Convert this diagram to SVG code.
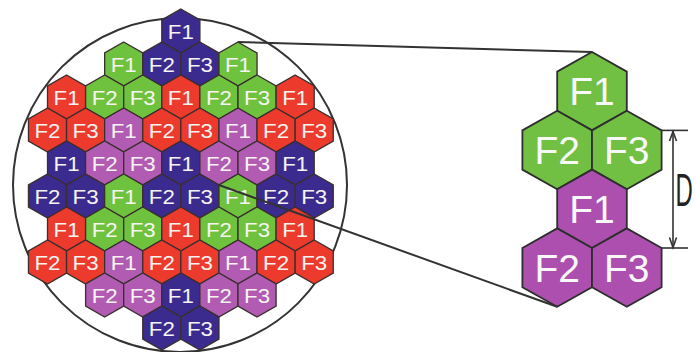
<svg xmlns="http://www.w3.org/2000/svg" xmlns:xlink="http://www.w3.org/1999/xlink" width="695" height="352" viewBox="0 0 695 352">
<style>
.B{fill:#3b2b8e}.G{fill:#6fc23e}.R{fill:#ec3a2c}.P{fill:#b15bb3}
.GR{fill:#72c043}.PR{fill:#ad4fae}
.t{font-family:"Liberation Sans",Arial,sans-serif;font-size:21px;fill:#f6f4f0;text-anchor:middle}
.tb{font-family:"Liberation Sans",Arial,sans-serif;font-size:39px;fill:#f8f8f8;text-anchor:middle}
.ln{stroke:#333;stroke-width:2;fill:none}
.dim{stroke:#333;stroke-width:1.6;fill:none}
</style>
<defs>
<polygon id="hs" points="0,-22 19.05,-11 19.05,11 0,22 -19.05,11 -19.05,-11" stroke="#3a2e2e" stroke-width="1.3"/>
<polygon id="hl" points="0,-39.2 34.8,-19.6 34.8,19.6 0,39.2 -34.8,19.6 -34.8,-19.6" stroke="#2e2e2e" stroke-width="1.8"/>
</defs>
<rect width="695" height="352" fill="#fff"/>
<circle cx="180" cy="185" r="167" class="ln"/>
<g id="grid">
<g id="r0c7"><use xlink:href="#hs" x="180.85" y="31" class="B"/><text class="t" x="180.85" y="38.5" textLength="26" lengthAdjust="spacingAndGlyphs">F1</text></g>
<g id="r1c4"><use xlink:href="#hs" x="123.7" y="64" class="G"/><text class="t" x="123.7" y="71.5" textLength="26" lengthAdjust="spacingAndGlyphs">F1</text></g>
<g id="r1c6"><use xlink:href="#hs" x="161.8" y="64" class="B"/><text class="t" x="161.8" y="71.5" textLength="26" lengthAdjust="spacingAndGlyphs">F2</text></g>
<g id="r1c8"><use xlink:href="#hs" x="199.9" y="64" class="B"/><text class="t" x="199.9" y="71.5" textLength="26" lengthAdjust="spacingAndGlyphs">F3</text></g>
<g id="r1c10"><use xlink:href="#hs" x="238" y="64" class="G"/><text class="t" x="238" y="71.5" textLength="26" lengthAdjust="spacingAndGlyphs">F1</text></g>
<g id="r2c1"><use xlink:href="#hs" x="66.55" y="97" class="R"/><text class="t" x="66.55" y="104.5" textLength="26" lengthAdjust="spacingAndGlyphs">F1</text></g>
<g id="r2c3"><use xlink:href="#hs" x="104.65" y="97" class="G"/><text class="t" x="104.65" y="104.5" textLength="26" lengthAdjust="spacingAndGlyphs">F2</text></g>
<g id="r2c5"><use xlink:href="#hs" x="142.75" y="97" class="G"/><text class="t" x="142.75" y="104.5" textLength="26" lengthAdjust="spacingAndGlyphs">F3</text></g>
<g id="r2c7"><use xlink:href="#hs" x="180.85" y="97" class="R"/><text class="t" x="180.85" y="104.5" textLength="26" lengthAdjust="spacingAndGlyphs">F1</text></g>
<g id="r2c9"><use xlink:href="#hs" x="218.95" y="97" class="G"/><text class="t" x="218.95" y="104.5" textLength="26" lengthAdjust="spacingAndGlyphs">F2</text></g>
<g id="r2c11"><use xlink:href="#hs" x="257.05" y="97" class="G"/><text class="t" x="257.05" y="104.5" textLength="26" lengthAdjust="spacingAndGlyphs">F3</text></g>
<g id="r2c13"><use xlink:href="#hs" x="295.15" y="97" class="R"/><text class="t" x="295.15" y="104.5" textLength="26" lengthAdjust="spacingAndGlyphs">F1</text></g>
<g id="r3c0"><use xlink:href="#hs" x="47.5" y="130" class="R"/><text class="t" x="47.5" y="137.5" textLength="26" lengthAdjust="spacingAndGlyphs">F2</text></g>
<g id="r3c2"><use xlink:href="#hs" x="85.6" y="130" class="R"/><text class="t" x="85.6" y="137.5" textLength="26" lengthAdjust="spacingAndGlyphs">F3</text></g>
<g id="r3c4"><use xlink:href="#hs" x="123.7" y="130" class="P"/><text class="t" x="123.7" y="137.5" textLength="26" lengthAdjust="spacingAndGlyphs">F1</text></g>
<g id="r3c6"><use xlink:href="#hs" x="161.8" y="130" class="R"/><text class="t" x="161.8" y="137.5" textLength="26" lengthAdjust="spacingAndGlyphs">F2</text></g>
<g id="r3c8"><use xlink:href="#hs" x="199.9" y="130" class="R"/><text class="t" x="199.9" y="137.5" textLength="26" lengthAdjust="spacingAndGlyphs">F3</text></g>
<g id="r3c10"><use xlink:href="#hs" x="238" y="130" class="P"/><text class="t" x="238" y="137.5" textLength="26" lengthAdjust="spacingAndGlyphs">F1</text></g>
<g id="r3c12"><use xlink:href="#hs" x="276.1" y="130" class="R"/><text class="t" x="276.1" y="137.5" textLength="26" lengthAdjust="spacingAndGlyphs">F2</text></g>
<g id="r3c14"><use xlink:href="#hs" x="314.2" y="130" class="R"/><text class="t" x="314.2" y="137.5" textLength="26" lengthAdjust="spacingAndGlyphs">F3</text></g>
<g id="r4c1"><use xlink:href="#hs" x="66.55" y="163" class="B"/><text class="t" x="66.55" y="170.5" textLength="26" lengthAdjust="spacingAndGlyphs">F1</text></g>
<g id="r4c3"><use xlink:href="#hs" x="104.65" y="163" class="P"/><text class="t" x="104.65" y="170.5" textLength="26" lengthAdjust="spacingAndGlyphs">F2</text></g>
<g id="r4c5"><use xlink:href="#hs" x="142.75" y="163" class="P"/><text class="t" x="142.75" y="170.5" textLength="26" lengthAdjust="spacingAndGlyphs">F3</text></g>
<g id="r4c7"><use xlink:href="#hs" x="180.85" y="163" class="B"/><text class="t" x="180.85" y="170.5" textLength="26" lengthAdjust="spacingAndGlyphs">F1</text></g>
<g id="r4c9"><use xlink:href="#hs" x="218.95" y="163" class="P"/><text class="t" x="218.95" y="170.5" textLength="26" lengthAdjust="spacingAndGlyphs">F2</text></g>
<g id="r4c11"><use xlink:href="#hs" x="257.05" y="163" class="P"/><text class="t" x="257.05" y="170.5" textLength="26" lengthAdjust="spacingAndGlyphs">F3</text></g>
<g id="r4c13"><use xlink:href="#hs" x="295.15" y="163" class="B"/><text class="t" x="295.15" y="170.5" textLength="26" lengthAdjust="spacingAndGlyphs">F1</text></g>
<g id="r5c0"><use xlink:href="#hs" x="47.5" y="196" class="B"/><text class="t" x="47.5" y="203.5" textLength="26" lengthAdjust="spacingAndGlyphs">F2</text></g>
<g id="r5c2"><use xlink:href="#hs" x="85.6" y="196" class="B"/><text class="t" x="85.6" y="203.5" textLength="26" lengthAdjust="spacingAndGlyphs">F3</text></g>
<g id="r5c4"><use xlink:href="#hs" x="123.7" y="196" class="G"/><text class="t" x="123.7" y="203.5" textLength="26" lengthAdjust="spacingAndGlyphs">F1</text></g>
<g id="r5c6"><use xlink:href="#hs" x="161.8" y="196" class="B"/><text class="t" x="161.8" y="203.5" textLength="26" lengthAdjust="spacingAndGlyphs">F2</text></g>
<g id="r5c8"><use xlink:href="#hs" x="199.9" y="196" class="B"/><text class="t" x="199.9" y="203.5" textLength="26" lengthAdjust="spacingAndGlyphs">F3</text></g>
<g id="r5c10"><use xlink:href="#hs" x="238" y="196" class="G"/><text class="t" x="238" y="203.5" textLength="26" lengthAdjust="spacingAndGlyphs">F1</text></g>
<g id="r5c12"><use xlink:href="#hs" x="276.1" y="196" class="B"/><text class="t" x="276.1" y="203.5" textLength="26" lengthAdjust="spacingAndGlyphs">F2</text></g>
<g id="r5c14"><use xlink:href="#hs" x="314.2" y="196" class="B"/><text class="t" x="314.2" y="203.5" textLength="26" lengthAdjust="spacingAndGlyphs">F3</text></g>
<g id="r6c1"><use xlink:href="#hs" x="66.55" y="229" class="R"/><text class="t" x="66.55" y="236.5" textLength="26" lengthAdjust="spacingAndGlyphs">F1</text></g>
<g id="r6c3"><use xlink:href="#hs" x="104.65" y="229" class="G"/><text class="t" x="104.65" y="236.5" textLength="26" lengthAdjust="spacingAndGlyphs">F2</text></g>
<g id="r6c5"><use xlink:href="#hs" x="142.75" y="229" class="G"/><text class="t" x="142.75" y="236.5" textLength="26" lengthAdjust="spacingAndGlyphs">F3</text></g>
<g id="r6c7"><use xlink:href="#hs" x="180.85" y="229" class="R"/><text class="t" x="180.85" y="236.5" textLength="26" lengthAdjust="spacingAndGlyphs">F1</text></g>
<g id="r6c9"><use xlink:href="#hs" x="218.95" y="229" class="G"/><text class="t" x="218.95" y="236.5" textLength="26" lengthAdjust="spacingAndGlyphs">F2</text></g>
<g id="r6c11"><use xlink:href="#hs" x="257.05" y="229" class="G"/><text class="t" x="257.05" y="236.5" textLength="26" lengthAdjust="spacingAndGlyphs">F3</text></g>
<g id="r6c13"><use xlink:href="#hs" x="295.15" y="229" class="R"/><text class="t" x="295.15" y="236.5" textLength="26" lengthAdjust="spacingAndGlyphs">F1</text></g>
<g id="r7c0"><use xlink:href="#hs" x="47.5" y="262" class="R"/><text class="t" x="47.5" y="269.5" textLength="26" lengthAdjust="spacingAndGlyphs">F2</text></g>
<g id="r7c2"><use xlink:href="#hs" x="85.6" y="262" class="R"/><text class="t" x="85.6" y="269.5" textLength="26" lengthAdjust="spacingAndGlyphs">F3</text></g>
<g id="r7c4"><use xlink:href="#hs" x="123.7" y="262" class="P"/><text class="t" x="123.7" y="269.5" textLength="26" lengthAdjust="spacingAndGlyphs">F1</text></g>
<g id="r7c6"><use xlink:href="#hs" x="161.8" y="262" class="R"/><text class="t" x="161.8" y="269.5" textLength="26" lengthAdjust="spacingAndGlyphs">F2</text></g>
<g id="r7c8"><use xlink:href="#hs" x="199.9" y="262" class="R"/><text class="t" x="199.9" y="269.5" textLength="26" lengthAdjust="spacingAndGlyphs">F3</text></g>
<g id="r7c10"><use xlink:href="#hs" x="238" y="262" class="P"/><text class="t" x="238" y="269.5" textLength="26" lengthAdjust="spacingAndGlyphs">F1</text></g>
<g id="r7c12"><use xlink:href="#hs" x="276.1" y="262" class="R"/><text class="t" x="276.1" y="269.5" textLength="26" lengthAdjust="spacingAndGlyphs">F2</text></g>
<g id="r7c14"><use xlink:href="#hs" x="314.2" y="262" class="R"/><text class="t" x="314.2" y="269.5" textLength="26" lengthAdjust="spacingAndGlyphs">F3</text></g>
<g id="r8c3"><use xlink:href="#hs" x="104.65" y="295" class="P"/><text class="t" x="104.65" y="302.5" textLength="26" lengthAdjust="spacingAndGlyphs">F2</text></g>
<g id="r8c5"><use xlink:href="#hs" x="142.75" y="295" class="P"/><text class="t" x="142.75" y="302.5" textLength="26" lengthAdjust="spacingAndGlyphs">F3</text></g>
<g id="r8c7"><use xlink:href="#hs" x="180.85" y="295" class="B"/><text class="t" x="180.85" y="302.5" textLength="26" lengthAdjust="spacingAndGlyphs">F1</text></g>
<g id="r8c9"><use xlink:href="#hs" x="218.95" y="295" class="P"/><text class="t" x="218.95" y="302.5" textLength="26" lengthAdjust="spacingAndGlyphs">F2</text></g>
<g id="r8c11"><use xlink:href="#hs" x="257.05" y="295" class="P"/><text class="t" x="257.05" y="302.5" textLength="26" lengthAdjust="spacingAndGlyphs">F3</text></g>
<g id="r9c6"><use xlink:href="#hs" x="161.8" y="328" class="B"/><text class="t" x="161.8" y="335.5" textLength="26" lengthAdjust="spacingAndGlyphs">F2</text></g>
<g id="r9c8"><use xlink:href="#hs" x="199.9" y="328" class="B"/><text class="t" x="199.9" y="335.5" textLength="26" lengthAdjust="spacingAndGlyphs">F3</text></g>
</g>
<g id="cluster">
<g id="zF1g"><use xlink:href="#hl" x="592" y="91.2" class="GR"/><text class="tb" x="592" y="105.2">F1</text></g>
<g id="zF2g"><use xlink:href="#hl" x="557.2" y="150" class="GR"/><text class="tb" x="557.2" y="164">F2</text></g>
<g id="zF3g"><use xlink:href="#hl" x="626.8" y="150" class="GR"/><text class="tb" x="626.8" y="164">F3</text></g>
<g id="zF1p"><use xlink:href="#hl" x="592" y="208.8" class="PR"/><text class="tb" x="592" y="222.8">F1</text></g>
<g id="zF2p"><use xlink:href="#hl" x="557.2" y="267.6" class="PR"/><text class="tb" x="557.2" y="281.6">F2</text></g>
<g id="zF3p"><use xlink:href="#hl" x="626.8" y="267.6" class="PR"/><text class="tb" x="626.8" y="281.6">F3</text></g>
</g>
<g id="connectors">
<line class="ln" x1="238" y1="42" x2="592" y2="52"/>
<line class="ln" x1="218.95" y1="185" x2="557.2" y2="306.8"/>
</g>
<g id="dimension">
<line class="dim" x1="661" y1="130.4" x2="688" y2="130.4"/>
<line class="dim" x1="661" y1="248" x2="688" y2="248"/>
<line class="dim" x1="673" y1="131" x2="673" y2="247.5"/>
<polyline class="dim" points="669.5,141 673,131.5 676.5,141"/>
<polyline class="dim" points="669.5,237.5 673,247.5 676.5,237.5"/>
<text transform="translate(675.5,206) scale(0.52,1)" font-family="Liberation Sans, Arial, sans-serif" font-size="46" fill="#222">D</text>
</g>
</svg>
